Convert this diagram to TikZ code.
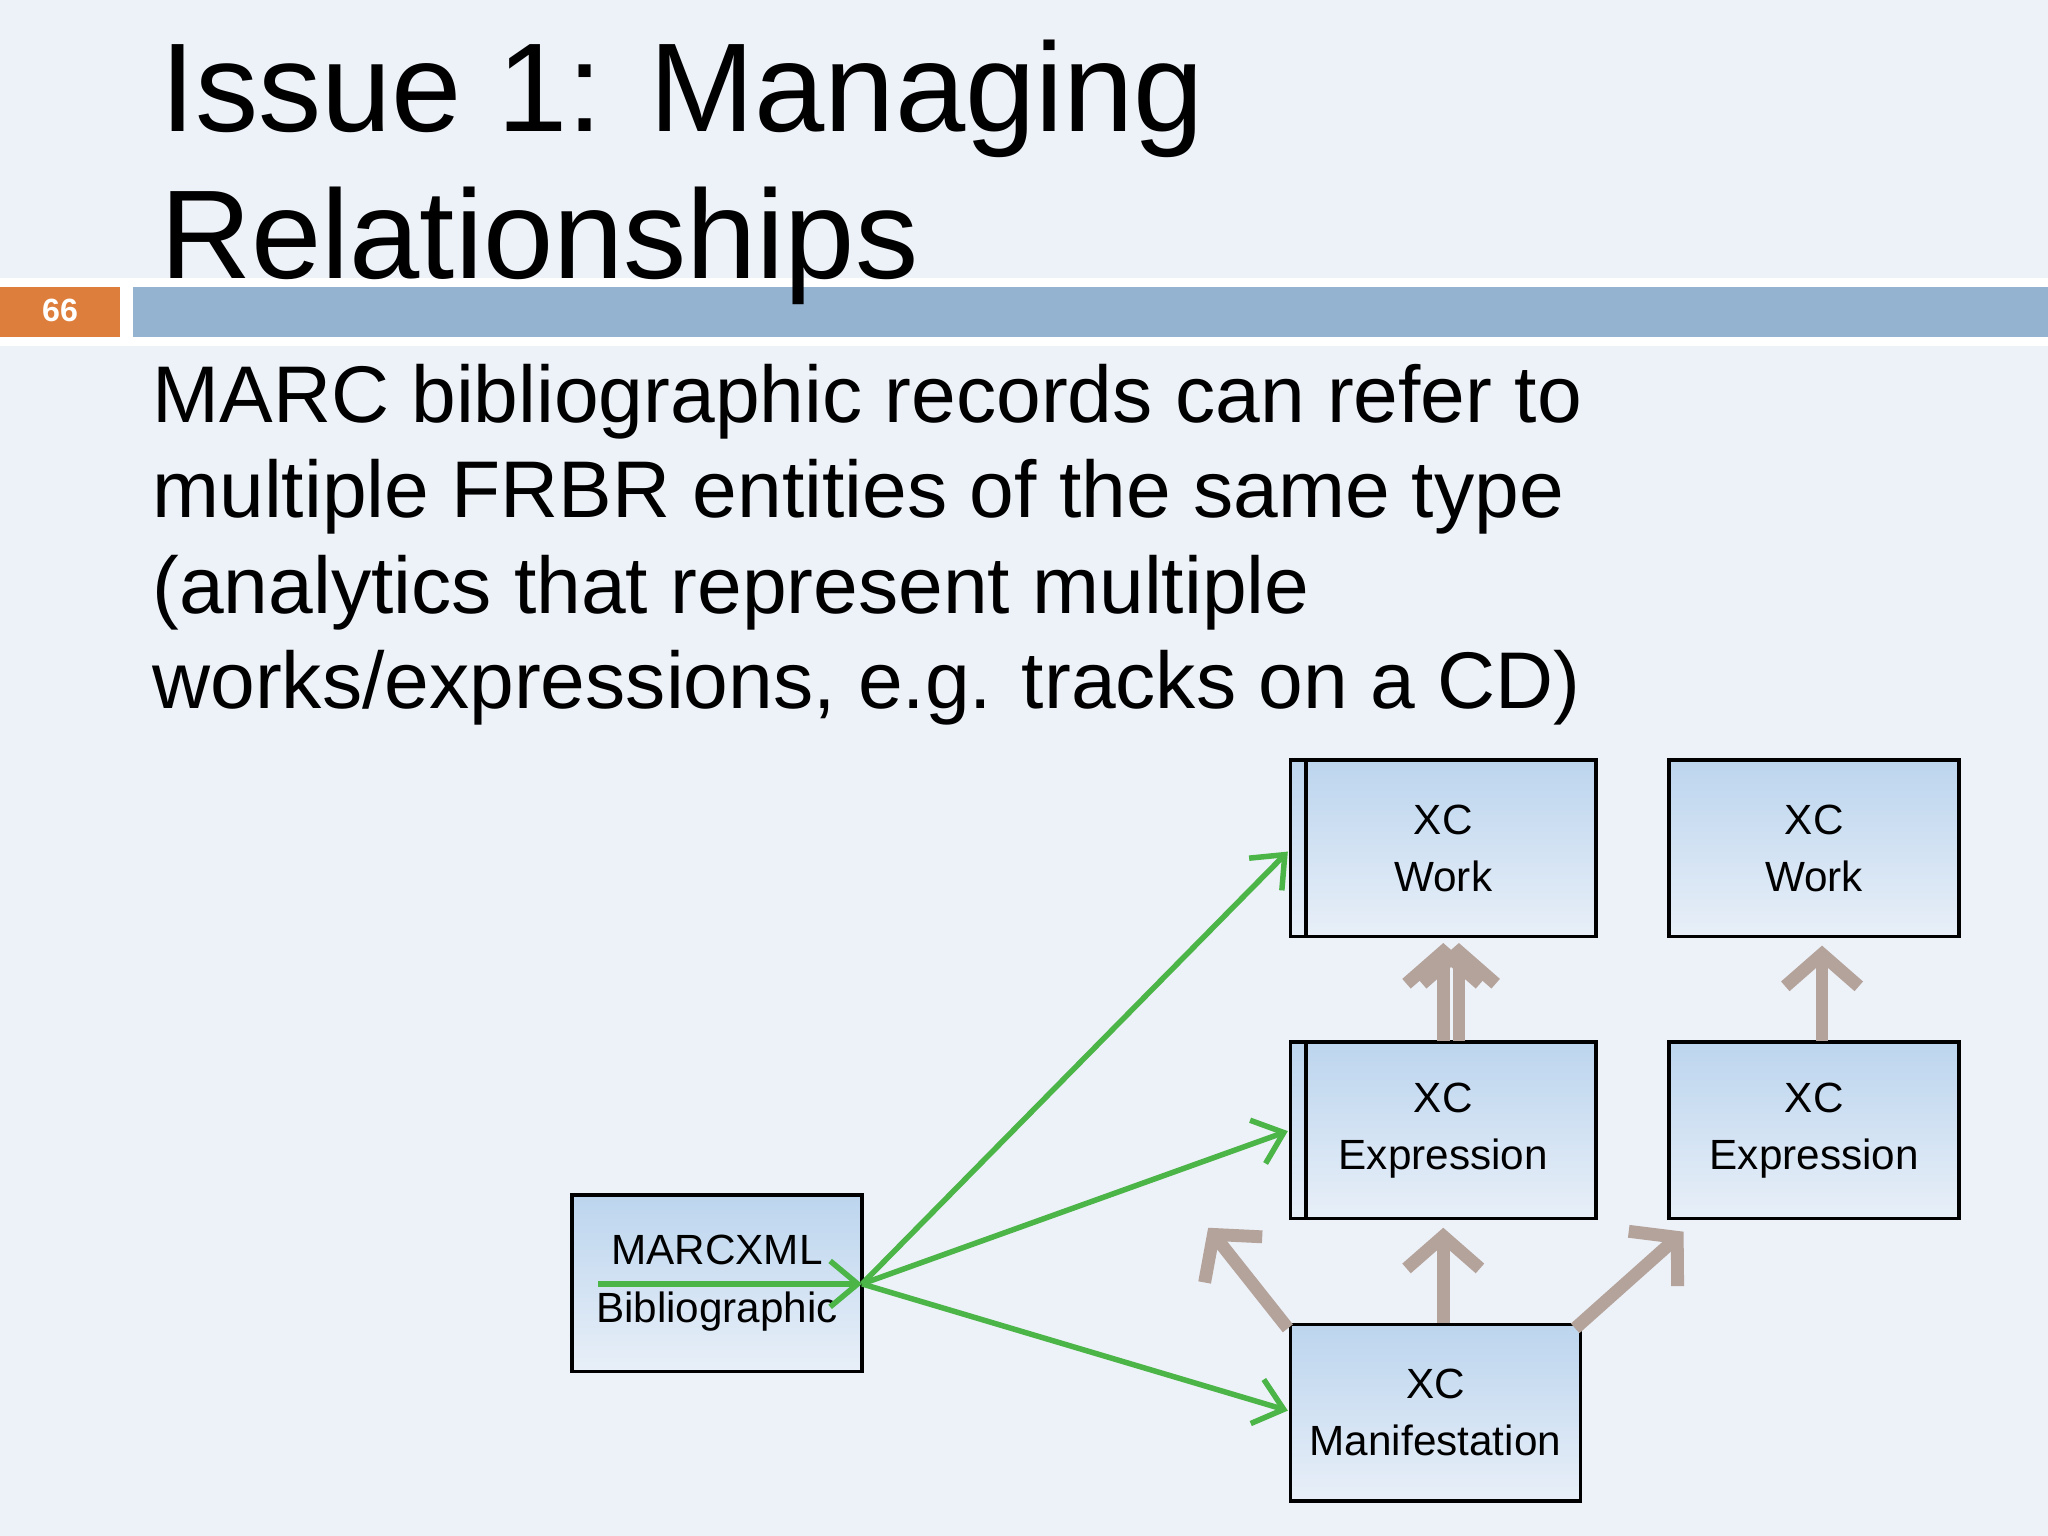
\documentclass[tikz,border=0pt]{standalone}
\usepackage{fontspec}
\setmainfont{Liberation Sans}
\usetikzlibrary{arrows.meta}
\definecolor{bg}{HTML}{EDF1F8}
\definecolor{barblue}{HTML}{93B3D0}
\definecolor{orng}{HTML}{DE7E3C}
\definecolor{grn}{HTML}{4BB547}
\definecolor{brn}{HTML}{B3A39B}
\definecolor{boxtop}{HTML}{BCD5EE}
\definecolor{boxbot}{HTML}{E8EFF8}
\begin{document}
\begin{tikzpicture}[x=0.01cm,y=-0.01cm,
 box/.style={draw=black,line width=0.8pt,top color=boxtop,bottom color=boxbot,minimum width=222\pgflinewidth*0+6.31cm*0+2.22cm,minimum height=1.35cm,align=center,font=\fontsize{9.2}{12.5}\selectfont,inner sep=0pt},
 g/.style={draw=grn,line width=1.2pt,-{Straight Barb[length=6pt,width=10pt,line width=1.2pt]}},
 b/.style={draw=brn,line width=2.8pt,-{Straight Barb[length=7pt,width=16pt,line width=2.8pt]}}]
\useasboundingbox (0,0) rectangle (1568,1176);
\fill[bg] (0,0) rectangle (1568,1176);
\fill[white] (0,213) rectangle (1568,265);
\fill[orng] (0,220) rectangle (92,258);
\fill[barblue] (102,220) rectangle (1568,258);
\node[font=\bfseries\fontsize{7}{8}\selectfont,text=white] (num) at (46,238) {66};
\node[anchor=north west,align=left,inner sep=0pt,font=\fontsize{27.5}{32}\selectfont] (title) at (122,30) {Issue 1: Managing\\Relationships};
\node[anchor=north west,align=left,inner sep=0pt,font=\fontsize{17.5}{20.8}\selectfont] (body) at (116,278) {MARC bibliographic records can refer to\\multiple FRBR entities of the same type\\(analytics that represent multiple\\works/expressions, e.g. tracks on a CD)};
\node[box,minimum width=2.34cm] (w1) at (1105,649.5) {XC\\Work};
\node[box] (w2) at (1389,649.5) {XC\\Work};
\node[box,minimum width=2.34cm] (e1) at (1105,865.5) {XC\\Expression};
\node[box] (e2) at (1389,865.5) {XC\\Expression};
\node[box] (m) at (549,982.5) {MARCXML\\Bibliographic};
\node[box] (mf) at (1099,1081.5) {XC\\Manifestation};
\draw[line width=0.8pt] (1000,582) -- (1000,717);
\draw[line width=0.8pt] (1000,798) -- (1000,933);
\coordinate (gs) at (458,983);
\coordinate (hub) at (660,983);
\draw[g] (gs) -- (hub);
\draw[g] (hub) -- (986,652);
\draw[g] (hub) -- (986,866);
\draw[g] (hub) -- (986,1080);
\draw[b] (1105,797) -- (1105,722);
\draw[b] (1117,797) -- (1117,722);
\draw[b] (1395,797) -- (1395,724);
\draw[b] (1105,1013) -- (1105,940);
\draw[b] (986,1017) -- (925,940);
\draw[b] (1206,1017) -- (1289,943);
\end{tikzpicture}
\end{document}
